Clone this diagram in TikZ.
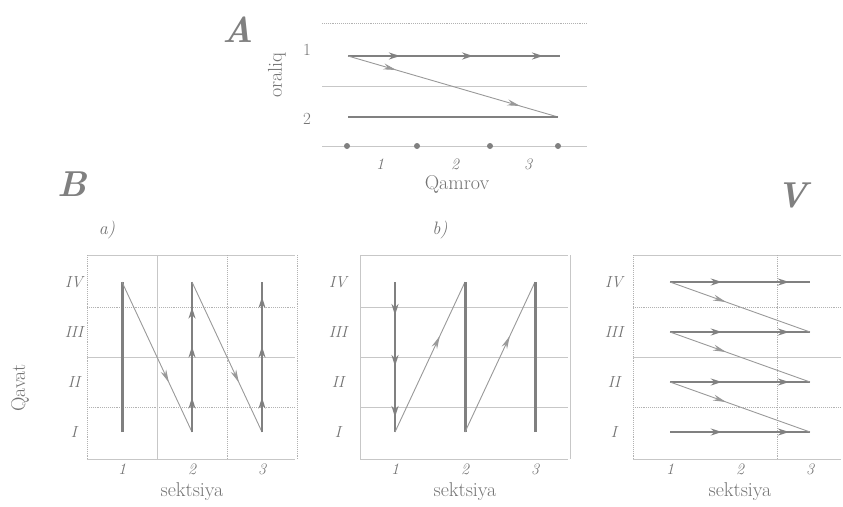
\documentclass[tikz,border=0pt]{standalone}
\usepackage{fontspec}
\usetikzlibrary{arrows.meta,decorations.markings}

\begin{document}
\begin{tikzpicture}[x=1pt, y=-1pt,
  every node/.style={text=black!55, inner sep=0pt},
  >={Stealth[length=11pt,width=7pt]},
  frame/.style={black!22, line width=0.9pt},
  dotln/.style={black!30, line width=0.9pt, densely dotted},
  track/.style={black!50, line width=2.2pt},
  slant/.style={black!40, line width=0.9pt},
  tip/.style={postaction={decorate, decoration={markings, mark=at position #1 with {\arrow{>}}}}},
  slim/.style={postaction={decorate, decoration={markings, mark=at position #1 with {\arrow{Stealth[length=13pt,width=6pt]}}}}},
  panelid/.style={font=\bfseries\itshape\fontsize{36}{36}\selectfont, text=black!50},
  sub/.style={font=\itshape\fontsize{18}{18}\selectfont},
  axis/.style={font=\fontsize{20}{20}\selectfont},
  num/.style={font=\itshape\fontsize{16}{16}\selectfont},
  floor/.style={font=\itshape\fontsize{16}{16}\selectfont}
]
\fill[white] (0,0) rectangle (843,506);
\useasboundingbox (0,0) rectangle (843,506);

% A: two rows of the flow
\draw[dotln] (322,23) -- (587,23);
\draw[frame] (322,86) -- (587,86);
\draw[frame] (322,146) -- (587,146);
\foreach \x in {347,417,490,558}
  \fill[black!50] (\x,146) circle (3pt);
\coordinate (A1s) at (348,56);
\coordinate (A1e) at (560,56);
\coordinate (A2s) at (348,117);
\coordinate (A2e) at (558,117);
\draw[track, tip=.245, tip=.59, tip=.92] (A1s) -- (A1e);
\draw[slant, slim=.23, slim=.82] (A1s) -- (A2e);
\draw[track] (A2s) -- (A2e);
\node[panelid] (lblA) at (238,30) {A};
\node[num, font=\fontsize{17}{17}\selectfont] (rowA1) at (307,50) {1};
\node[num, font=\fontsize{17}{17}\selectfont] (rowA2) at (307,119) {2};
\node[num] (qA1) at (380,164) {1};
\node[num] (qA2) at (455,164) {2};
\node[num] (qA3) at (528,164) {3};
\node[axis, rotate=90] (oraliq) at (277,75) {oraliq};
\node[axis] (qamrov) at (457,184) {Qamrov};

% B, V: points of the grids
\foreach \p/\bx in {a/122, b/395, v/670} {
  \foreach \c in {1,2,3} {
    \foreach \r/\ry in {1/432, 2/382, 3/332, 4/282} {
      \coordinate (\p\c-\r) at ({\bx+70*(\c-1)}, \ry);
    }
  }
}

% grids
\foreach \fl in {87, 360, 633} {
  \draw[frame] (\fl,255) -- ({\fl+208},255);
  \draw[frame] (\fl,459) -- ({\fl+208},459);
  \draw[frame] (\fl,357) -- ({\fl+208},357);
}
\draw[dotln] (87,307) -- (295,307);
\draw[dotln] (87,407) -- (295,407);
\draw[dotln] (87,255) -- (87,459);
\draw[dotln] (297,255) -- (297,459);
\draw[frame] (157,255) -- (157,459);
\draw[dotln] (227,255) -- (227,459);
\draw[frame] (360,307) -- (568,307);
\draw[frame] (360,407) -- (568,407);
\draw[frame] (360,255) -- (360,459);
\draw[frame] (570,255) -- (570,459);
\draw[dotln] (633,307) -- (841,307);
\draw[dotln] (633,407) -- (841,407);
\draw[dotln] (633,255) -- (633,459);
\draw[dotln] (777,255) -- (777,459);

% B a)
\draw[track, line width=3pt] (a1-1) -- (a1-4);
\draw[slant, slim=.67] (a1-4) -- (a2-1);
\draw[track, tip=.23, tip=.57, tip=.83] (a2-1) -- (a2-4);
\draw[slant, slim=.67] (a2-4) -- (a3-1);
\draw[track, tip=.23, tip=.57, tip=.9] (a3-1) -- (a3-4);

% B b)
\draw[track, tip=.22, tip=.56, tip=.9] (b1-4) -- (b1-1);
\draw[slant, slim=.64] (b1-1) -- (b2-4);
\draw[track, line width=3pt] (b2-1) -- (b2-4);
\draw[slant, slim=.64] (b2-1) -- (b3-4);
\draw[track, line width=3pt] (b3-1) -- (b3-4);

% V
\foreach \r in {1,...,4}
  \draw[track, line width=1.8pt, tip=.37, tip=.85] (v1-\r) -- (v3-\r);
\foreach \r/\n in {4/3, 3/2, 2/1}
  \draw[slant, slim=.4] (v1-\r) -- (v3-\n);

% labels
\node[panelid] (lblB) at (72,184) {B};
\node[panelid] (lblV) at (792,195) {V};
\node[sub] (suba) at (107,230) {a)};
\node[sub] (subb) at (440,230) {b)};
\node[axis, rotate=90] (qavat) at (20,388) {Qavat};
\foreach \p/\lx in {a/74, b/338, v/614} {
  \foreach \r/\rn in {1/I, 2/II, 3/III, 4/IV}
    \node[floor] (\p-fl\r) at (\lx, {482-50*\r}) {\rn};
  \foreach \c in {1,2,3}
    \node[num] (\p-s\c) at ([yshift=-187pt]\p\c-4) {\c};
  \node[axis] (\p-sek) at ([yshift=-210pt]\p2-4) {sektsiya};
}
\end{tikzpicture}
\end{document}
